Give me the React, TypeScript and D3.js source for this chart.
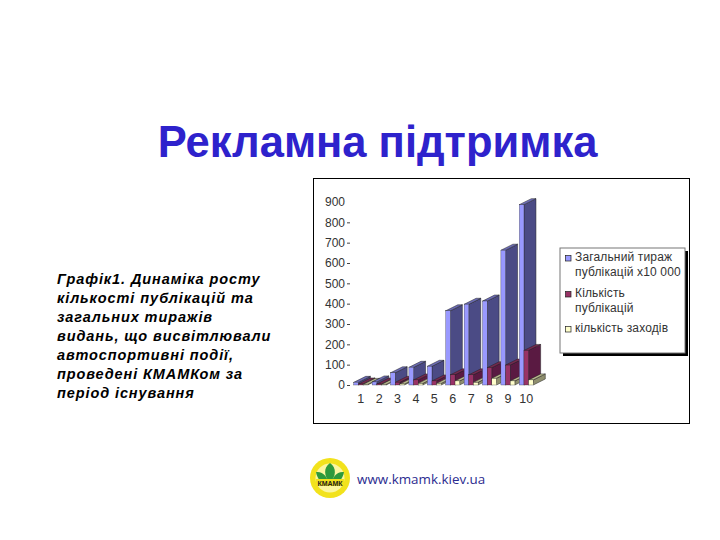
// App.tsx
import { useEffect, useRef } from 'react';
import * as d3 from 'd3';

const categories = ['1', '2', '3', '4', '5', '6', '7', '8', '9', '10'];
const seriesNames = ['circulation', 'publications', 'events'];
const circulation = [13, 15, 60, 87, 92, 365, 397, 413, 663, 887];
const publications = [5, 5, 13, 25, 20, 50, 50, 85, 98, 170];
const events = [3, 3, 5, 8, 8, 20, 13, 33, 20, 25];
const yTicks = [0, 100, 200, 300, 400, 500, 600, 700, 800, 900];

const descriptionLines = [
  'Графік1. Динаміка росту',
  'кількості публікацій та',
  'загальних тиражів',
  'видань, що висвітлювали',
  'автоспортивні події,',
  'проведені КМАМКом за',
  'період існування',
];

const legendItems = [
  { lines: ['Загальний тираж', 'публікацій x10 000'], color: '#9999ff', y: 261 },
  { lines: ['Кількість', 'публікацій'], color: '#993366', y: 297 },
  { lines: ['кількість заходів'], color: '#ffffcc', y: 332 },
];

// колір лицьової, бічної та верхньої граней
const barColors = [
  { front: '#9999ff', side: '#4b4b85', top: '#6c6cb8' },
  { front: '#993366', side: '#5a1a42', top: '#77284f' },
  { front: '#ffffcc', side: '#8f8f6e', top: '#b9b98e' },
];

const SANS = '"Liberation Sans", Arial, sans-serif';
const DEPTH_X = 12;
const DEPTH_Y = 6;

export default function App() {
  const ref = useRef<SVGSVGElement | null>(null);

  useEffect(() => {
    const svg = d3.select(ref.current);
    svg.selectAll('*').remove();

    svg.append('text')
      .attr('x', 377.5)
      .attr('y', 157)
      .attr('text-anchor', 'middle')
      .style('font-family', SANS)
      .style('font-size', '43.5px')
      .style('font-weight', '700')
      .attr('fill', '#2e22cc')
      .text('Рекламна підтримка');

    svg.append('g')
      .selectAll('text')
      .data(descriptionLines)
      .enter()
      .append('text')
      .attr('x', 57)
      .attr('y', (_, i) => 284 + i * 19)
      .style('font-family', SANS)
      .style('font-size', '14.5px')
      .style('letter-spacing', '0.9px')
      .style('font-weight', '700')
      .style('font-style', 'italic')
      .attr('fill', '#000')
      .text(d => d);

    // рамка діаграми
    svg.append('rect')
      .attr('x', 313.5)
      .attr('y', 178.5)
      .attr('width', 376)
      .attr('height', 245)
      .attr('fill', '#fff')
      .attr('stroke', '#000');

    const x = d3.scaleBand<string>()
      .domain(categories)
      .range([351.5, 535.5])
      .paddingInner(0.24)
      .paddingOuter(0.12);
    const inner = d3.scaleBand<string>()
      .domain(seriesNames)
      .range([0, x.bandwidth()]);
    const y = d3.scaleLinear().domain([0, 900]).range([385, 202]);

    const values = [circulation, publications, events];

    const yAxis = svg.append('g')
      .attr('transform', 'translate(350,0)')
      .call(d3.axisLeft(y).tickValues(yTicks).tickSize(3).tickPadding(2).tickFormat(d => `${d}`));
    yAxis.select('.domain').remove();
    yAxis.selectAll('.tick line').attr('stroke', '#444').attr('opacity', (d: any) => (d === 900 ? 0 : 1));
    yAxis.selectAll('.tick text')
      .style('font-family', SANS)
      .style('font-size', '12px')
      .attr('fill', '#333');

    const xAxis = svg.append('g')
      .attr('transform', 'translate(0,392)')
      .call(d3.axisBottom(x).tickSize(0).tickPadding(2));
    xAxis.select('.domain').remove();
    xAxis.selectAll('.tick text')
      .style('font-family', SANS)
      .style('font-size', '12.5px')
      .attr('fill', '#333');

    // стовпчики малюємо зліва направо, щоб наступний перекривав бік попереднього
    const bars = svg.append('g');
    categories.forEach((cat, ci) => {
      seriesNames.forEach((name, si) => {
        const x0 = (x(cat) as number) + (inner(name) as number);
        const x1 = x0 + inner.bandwidth();
        const yTop = y(values[si][ci]);
        const yBase = y(0);
        const c = barColors[si];
        const poly = (pts: [number, number][], fill: string) => bars.append('polygon')
          .attr('points', pts.map(p => p.join(',')).join(' '))
          .attr('fill', fill)
          .attr('stroke', '#222')
          .attr('stroke-width', 0.5);
        poly([[x1, yBase], [x1 + DEPTH_X, yBase - DEPTH_Y], [x1 + DEPTH_X, yTop - DEPTH_Y], [x1, yTop]], c.side);
        poly([[x0, yTop], [x1, yTop], [x1 + DEPTH_X, yTop - DEPTH_Y], [x0 + DEPTH_X, yTop - DEPTH_Y]], c.top);
        bars.append('rect')
          .attr('x', x0)
          .attr('y', yTop)
          .attr('width', x1 - x0)
          .attr('height', yBase - yTop)
          .attr('fill', c.front)
          .attr('stroke', '#222')
          .attr('stroke-width', 0.3);
      });
    });

    // легенда
    svg.append('rect').attr('x', 563).attr('y', 251).attr('width', 125).attr('height', 105).attr('fill', '#000');
    svg.append('rect')
      .attr('x', 560)
      .attr('y', 248)
      .attr('width', 125)
      .attr('height', 105)
      .attr('fill', '#fff')
      .attr('stroke', '#777');

    const legend = svg.append('g')
      .selectAll('g')
      .data(legendItems)
      .enter()
      .append('g');
    legend.append('rect')
      .attr('x', 565.5)
      .attr('y', d => d.y - 5.5)
      .attr('width', 5.5)
      .attr('height', 5.5)
      .attr('fill', d => d.color)
      .attr('stroke', '#222')
      .attr('stroke-width', 0.7);
    legend.each(function (d) {
      d3.select(this).selectAll('text')
        .data(d.lines)
        .enter()
        .append('text')
        .attr('x', 575)
        .attr('y', (_, i) => d.y + i * 15)
        .style('font-family', SANS)
        .style('font-size', '12px')
        .style('letter-spacing', '0.15px')
        .attr('fill', '#333')
        .text(t => t);
    });

    // логотип
    const logo = svg.append('g').attr('transform', 'translate(330,478)');
    logo.append('circle').attr('r', 20).attr('fill', '#f2e21c');
    logo.append('circle').attr('r', 14.5).attr('fill', '#fbf6a0');
    logo.append('path').attr('d', 'M0,-15 C7,-10 6,-2 0,5 C-6,-2 -7,-10 0,-15 Z').attr('fill', '#2e9a3c');
    logo.append('path').attr('d', 'M-14,-6 C-7,-7 -2,-1 -1,7 C-8,6 -13,1 -14,-6 Z').attr('fill', '#2e9a3c');
    logo.append('path').attr('d', 'M14,-6 C7,-7 2,-1 1,7 C8,6 13,1 14,-6 Z').attr('fill', '#2e9a3c');
    logo.append('rect').attr('x', -14).attr('y', 1).attr('width', 28).attr('height', 7).attr('fill', '#f2e21c');
    logo.append('text')
      .attr('y', 7.5)
      .attr('text-anchor', 'middle')
      .style('font-family', SANS)
      .style('font-size', '7px')
      .style('font-weight', '700')
      .attr('fill', '#222')
      .text('КМАМК');

    svg.append('text')
      .attr('x', 357)
      .attr('y', 484)
      .style('font-family', '"Open Sans", sans-serif')
      .style('font-size', '13.4px')
      .attr('fill', '#2b2b8f')
      .text('www.kmamk.kiev.ua');
  }, []);

  return <svg ref={ref} width={720} height={540} style={{ position: 'absolute', left: 0, top: 0, background: '#fff' }} />;
}
